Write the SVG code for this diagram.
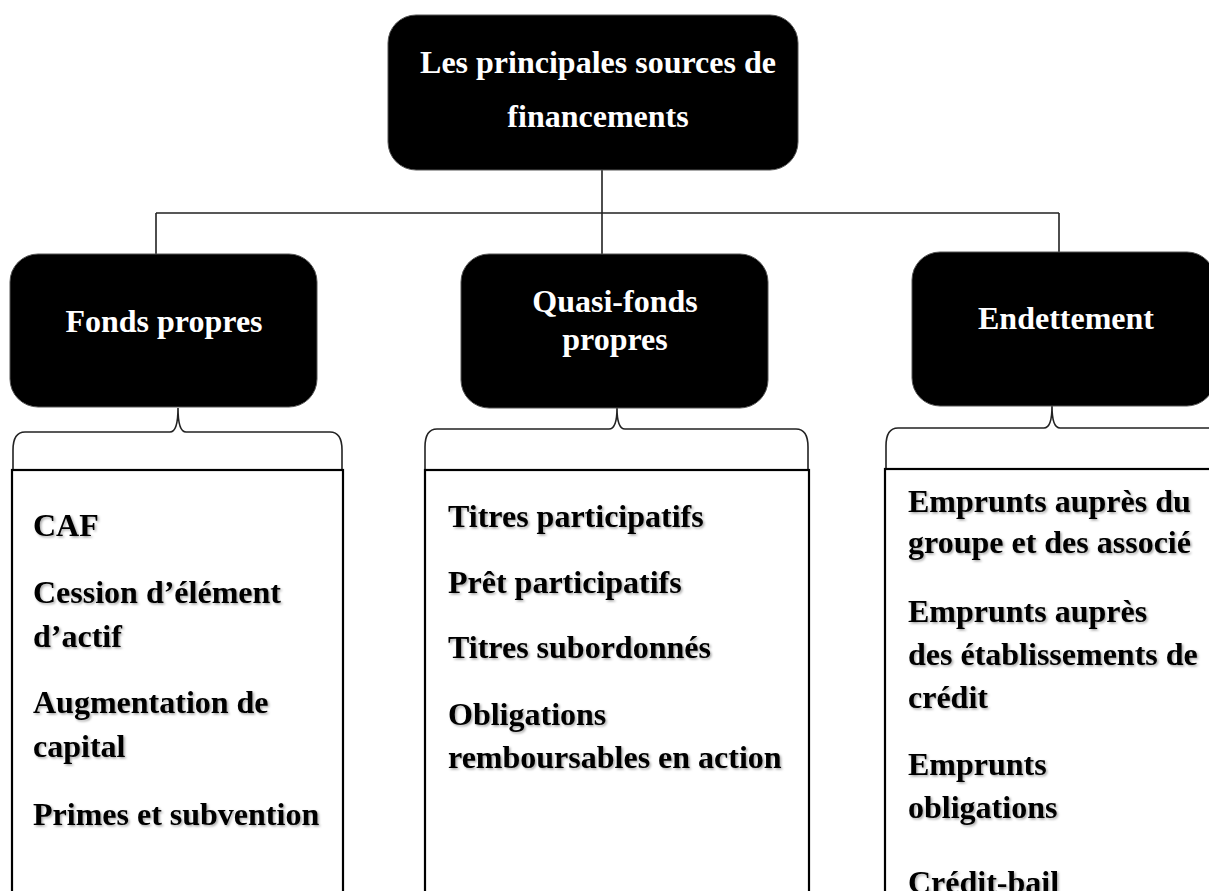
<svg xmlns="http://www.w3.org/2000/svg" width="1209" height="891" viewBox="0 0 1209 891">
<style>
.box{fill:#000;stroke:#555;stroke-width:1}
.btxt{font-family:"Liberation Serif","Times New Roman",serif;font-weight:bold;font-size:32px;fill:#fff;text-anchor:middle}
.ltxt{font-family:"Liberation Serif","Times New Roman",serif;font-weight:bold;font-size:32px;fill:#000;filter:url(#sh)}
.list{fill:#fff;stroke:#000;stroke-width:2.2}
.conn{fill:none;stroke:#222;stroke-width:1.6}
</style>
<defs>
<filter id="sh" x="-5%" y="-20%" width="110%" height="150%">
<feDropShadow dx="1.5" dy="1.5" stdDeviation="1" flood-color="#000" flood-opacity="0.35"/>
</filter>
</defs>
<rect width="1209" height="891" fill="#fff"/>
<g id="connectors">
<path class="conn" d="M602,170 L602,254 M156,213 L1059,213 M156,213 L156,254 M1059,213 L1059,252"/>
<path class="conn" d="M13,470 L13,450 Q13,432 25,432 L170,432 Q178,432 178,408 Q178,432 186,432 L330,432 Q342,432 342,450 L342,470"/>
<path class="conn" d="M425,469 L425,447 Q425,429 437,429 L609,429 Q617,429 617,408 Q617,429 625,429 L796,429 Q808,429 808,447 L808,469"/>
<path class="conn" d="M886,468 L886,446 Q886,428 898,428 L1044,428 Q1052,428 1052,406 Q1052,428 1060,428 L1220,428"/>
</g>
<g id="root">
<rect class="box" x="388" y="15" width="410" height="155" rx="28"/>
<text class="btxt" x="598" y="73">Les principales sources de</text>
<text class="btxt" x="598" y="127">financements</text>
</g>
<g id="fonds-propres">
<rect class="box" x="10" y="254" width="307" height="153" rx="28"/>
<text class="btxt" x="164" y="332">Fonds propres</text>
</g>
<g id="quasi-fonds-propres">
<rect class="box" x="461" y="254" width="307" height="154" rx="28"/>
<text class="btxt" x="615" y="312">Quasi-fonds</text>
<text class="btxt" x="615" y="350">propres</text>
</g>
<g id="endettement">
<rect class="box" x="912" y="252" width="303" height="154" rx="28"/>
<text class="btxt" x="1066" y="329">Endettement</text>
</g>
<g id="list-fonds-propres">
<rect class="list" x="12" y="470" width="331" height="440"/>
<text class="ltxt" x="33" y="536">CAF</text>
<text class="ltxt" x="33" y="603">Cession d’élément</text>
<text class="ltxt" x="33" y="647">d’actif</text>
<text class="ltxt" x="33" y="713">Augmentation de</text>
<text class="ltxt" x="33" y="757">capital</text>
<text class="ltxt" x="33" y="825">Primes et subvention</text>
</g>
<g id="list-quasi-fonds-propres">
<rect class="list" x="425" y="470" width="384" height="440"/>
<text class="ltxt" x="448" y="527">Titres participatifs</text>
<text class="ltxt" x="448" y="593">Prêt participatifs</text>
<text class="ltxt" x="448" y="658">Titres subordonnés</text>
<text class="ltxt" x="448" y="725">Obligations</text>
<text class="ltxt" x="448" y="768">remboursables en action</text>
</g>
<g id="list-endettement">
<rect class="list" x="885" y="469" width="340" height="440"/>
<text class="ltxt" x="908" y="512">Emprunts auprès du</text>
<text class="ltxt" x="908" y="553">groupe et des associé</text>
<text class="ltxt" x="908" y="622">Emprunts auprès</text>
<text class="ltxt" x="908" y="665">des établissements de</text>
<text class="ltxt" x="908" y="708">crédit</text>
<text class="ltxt" x="908" y="775">Emprunts</text>
<text class="ltxt" x="908" y="818">obligations</text>
<text class="ltxt" x="908" y="893">Crédit-bail</text>
</g>
</svg>
